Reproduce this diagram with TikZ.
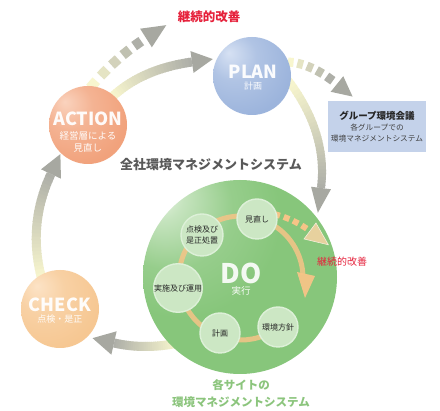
\documentclass[tikz,border=0pt]{standalone}
\usepackage{fontspec}
\setmainfont{Noto Sans CJK JP}
\usetikzlibrary{calc}
\definecolor{actBase}{HTML}{F1A27C}
\definecolor{actHi}{HTML}{FAD3BE}
\definecolor{actEdge}{HTML}{DE8A66}
\definecolor{plnBase}{HTML}{9CB4DC}
\definecolor{plnHi}{HTML}{D6E1F3}
\definecolor{plnEdge}{HTML}{829BC6}
\definecolor{chkBase}{HTML}{F6C792}
\definecolor{chkHi}{HTML}{FCE3C6}
\definecolor{chkEdge}{HTML}{EAB077}
\definecolor{doBase}{HTML}{87C67B}
\definecolor{doHi}{HTML}{EEF7EA}
\definecolor{doEdge}{HTML}{6AAA5F}
\definecolor{arrStart}{HTML}{F8F6CE}
\definecolor{arrEnd}{HTML}{AEAFA8}
\definecolor{arrHead}{HTML}{A7A8A1}
\definecolor{ringOr}{HTML}{F6C487}
\definecolor{miniFill}{HTML}{CCE7C4}
\definecolor{miniRim}{HTML}{DDF0D8}
\definecolor{boxBlue}{HTML}{C4D2EA}
\definecolor{redTxt}{HTML}{E6213B}
\definecolor{grayTxt}{HTML}{595959}
\definecolor{greenTxt}{HTML}{8CC57D}
\newcommand\mkshade[4]{\pgfdeclareradialshading{#1}{\pgfpoint{-15bp}{15bp}}{color(0bp)=(#3); color(15bp)=(#2!65!#3); color(34bp)=(#2); color(58bp)=(#2); color(76bp)=(#4)}}
\mkshade{shAct}{actBase}{actHi}{actEdge}
\mkshade{shPln}{plnBase}{plnHi}{plnEdge}
\mkshade{shChk}{chkBase}{chkHi}{chkEdge}
\pgfdeclareradialshading{shDo}{\pgfpoint{-22bp}{22bp}}{color(0bp)=(doHi); color(6bp)=(doBase!40!doHi); color(16bp)=(doBase!85!doHi); color(26bp)=(doBase); color(72bp)=(doBase); color(88bp)=(doEdge)}
% gradient quadratic curve: control pts #1 #2 #3, width #4, colours #5 -> #6, #7 segments
\newcommand\gcurve[7]{%
  \foreach \i in {1,...,#7}{%
    \pgfmathsetmacro\ta{(\i-1)/#7}%
    \pgfmathsetmacro\tb{min(1,(\i+0.3)/#7)}%
    \pgfmathtruncatemacro\pc{100*(\i-1)/(#7-1)}%
    \draw[line width=#4, draw=#6!\pc!#5]
      ($ {(1-\ta)*(1-\ta)}*(#1) + {2*(1-\ta)*\ta}*(#2) + {\ta*\ta}*(#3) $) --
      ($ {(1-\tb)*(1-\tb)}*(#1) + {2*(1-\tb)*\tb}*(#2) + {\tb*\tb}*(#3) $);
  }}
% dashed gradient curve
\newcommand\dcurve[8]{%
  \foreach \i in {1,...,#7}{%
    \pgfmathsetmacro\ta{(\i-1)/#7}%
    \pgfmathsetmacro\tb{(\i-1+#8)/#7}%
    \pgfmathtruncatemacro\pc{100*(\i-1)/(#7-1)}%
    \draw[line width=#4, draw=#6!\pc!#5]
      ($ {(1-\ta)*(1-\ta)}*(#1) + {2*(1-\ta)*\ta}*(#2) + {\ta*\ta}*(#3) $) --
      ($ {(1-\tb)*(1-\tb)}*(#1) + {2*(1-\tb)*\tb}*(#2) + {\tb*\tb}*(#3) $);
  }}
% arrow head: control #1, base centre #2, length #3, half width #4, style #5
\newcommand\ahead[5]{\fill[#5] ($(#2)!#3!180:(#1)$) -- ($(#2)!#4!90:(#1)$) -- ($(#2)!#4!-90:(#1)$) -- cycle;}
\begin{document}
\begin{tikzpicture}[x=1pt,y=-1pt,
  sphere/.style={circle, minimum size=78pt, inner sep=0pt, shade},
  mini/.style={circle, minimum size=40pt, inner sep=0pt, fill=miniFill, draw=miniRim, line width=1.4pt, font=\fontsize{8}{10.5}\selectfont, text=black!85, align=center},
  lbl/.style={text=white, text opacity=0.95, inner sep=0pt, font=\bfseries\fontsize{18}{18}\selectfont},
  sublbl/.style={text=white, text opacity=0.95, inner sep=0pt, font=\fontsize{9.5}{12}\selectfont, align=center},
  boxtxt/.style={inner sep=0pt, text=black!75, font=\fontsize{7.7}{9}\selectfont}]
\useasboundingbox (0,0) rectangle (440,411);
\fill[white] (0,0) rectangle (440,411);
% ---- outer cycle connectors ----
\coordinate (ap0) at (112,97);  \coordinate (ap1) at (142,69);  \coordinate (ap2) at (192,62);
\coordinate (ad0) at (90,88);   \coordinate (ad1) at (116,57);  \coordinate (ad2) at (146,38);
\coordinate (pd0) at (288,80);  \coordinate (pd1) at (328,133); \coordinate (pd2) at (321,188);
\coordinate (pb0) at (288,62);  \coordinate (pb1) at (311,63);  \coordinate (pb2) at (337,84);
\coordinate (dc0) at (178,343); \coordinate (dc1) at (145,350); \coordinate (dc2) at (114,343);
\coordinate (ca0) at (42,280);  \coordinate (ca1) at (27,225);  \coordinate (ca2) at (51,174);
\gcurve{ap0}{ap1}{ap2}{9pt}{arrStart}{arrEnd}{30}
\ahead{ap1}{ap2}{21pt}{11pt}{arrHead}
\dcurve{ad0}{ad1}{ad2}{10pt}{arrStart}{arrEnd}{5}{0.6}
\ahead{ad1}{ad2}{24pt}{11pt}{arrHead}
\gcurve{pd0}{pd1}{pd2}{8pt}{arrStart}{arrEnd}{30}
\ahead{pd1}{pd2}{25pt}{10pt}{arrHead}
\dcurve{pb0}{pb1}{pb2}{9pt}{arrStart}{arrEnd}{5}{0.6}
\ahead{pb1}{pb2}{20pt}{10pt}{arrHead}
\gcurve{dc0}{dc1}{dc2}{9pt}{arrStart}{arrEnd}{30}
\ahead{dc1}{dc2}{22pt}{12pt}{arrHead}
\gcurve{ca0}{ca1}{ca2}{9pt}{arrStart}{arrEnd}{30}
\ahead{ca1}{ca2}{22pt}{11pt}{arrHead}
% ---- spheres ----
\node[sphere, shading=shAct] (act) at (88,125) {};
\node[sphere, shading=shPln] (pln) at (252,76) {};
\node[sphere, shading=shChk] (chk) at (60,309) {};
\node[circle, minimum size=194pt, inner sep=0pt, shade, shading=shDo] (do) at (240,277) {};
% ---- inner ring ----
\coordinate (rc) at (241,278);
\draw[ringOr, opacity=0.85, line width=5pt] ($(rc)+(40:62)$) arc[start angle=40, end angle=357, radius=62];
\coordinate (rh1) at (297,272); \coordinate (rh2) at (315,276); \coordinate (rht) at (305,298);
\fill[ringOr, opacity=0.95] (rh1) -- (rh2) -- (rht) -- cycle;
\coordinate (dr0) at (274,214); \coordinate (dr1) at (294,219); \coordinate (dr2) at (310,231);
\dcurve{dr0}{dr1}{dr2}{6pt}{ringOr}{ringOr}{4}{0.6}
\fill[ringOr!75!white, opacity=0.85, draw=white!80!ringOr, line width=0.6pt] ($(dr2)!23pt!180:(dr1)$) -- ($(dr2)!10pt!90:(dr1)$) -- ($(dr2)!10pt!-90:(dr1)$) -- cycle;
% ---- small circles ----
\node[mini] (s1) at (257,219) {見直し};
\node[mini, minimum size=42pt] (s2) at (202,235) {点検及び\\是正処置};
\node[mini] (s3) at (178,288) {実施及び運用};
\node[mini] (s4) at (220,333) {計画};
\node[mini] (s5) at (278,327) {環境方針};
% ---- sphere labels ----
\node[lbl] (actT) at (88,118.5) {ACTION};
\node[sublbl] (actS) at (88,142) {経営層による\\見直し};
\node[lbl] (plnT) at (253,72) {PLAN};
\node[sublbl, font=\fontsize{9}{11}\selectfont] (plnS) at (253,86) {計画};
\node[lbl] (chkT) at (60,305) {CHECK};
\node[sublbl, font=\fontsize{9}{11}\selectfont] (chkS) at (60,319) {点検・是正};
\node[text=white, text opacity=0.9, inner sep=0pt, font=\bfseries\fontsize{27}{27}\selectfont] (doT) at (241,273) {DO};
\node[sublbl] (doS) at (241,291) {実行};
% ---- free texts ----
\node[text=redTxt, font=\bfseries\fontsize{12.5}{14}\selectfont] (kz1) at (209,17) {継続的改善};
\node[text=redTxt, font=\fontsize{10}{12}\selectfont] (kz2) at (342,262) {継続的改善};
\node[text=grayTxt, font=\bfseries\fontsize{13}{15}\selectfont] (zs) at (211,165) {全社環境マネジメントシステム};
\node[text=greenTxt, font=\bfseries\fontsize{11.5}{13}\selectfont] (st1) at (241,385) {各サイトの};
\node[text=greenTxt, font=\bfseries\fontsize{11.5}{13}\selectfont] (st2) at (241,402) {環境マネジメントシステム};
% ---- group box ----
\node[fill=boxBlue, minimum width=98pt, minimum height=51pt, inner sep=0pt] (box) at (377,126.5) {};
\node[inner sep=0pt, text=black!85, font=\bfseries\fontsize{9.5}{11}\selectfont] (bx1) at (377,116) {グループ環境会議};
\node[boxtxt] (bx2) at (377,128) {各グループでの};
\node[boxtxt] (bx3) at (377,138.5) {環境マネジメントシステム};
\end{tikzpicture}
\end{document}
